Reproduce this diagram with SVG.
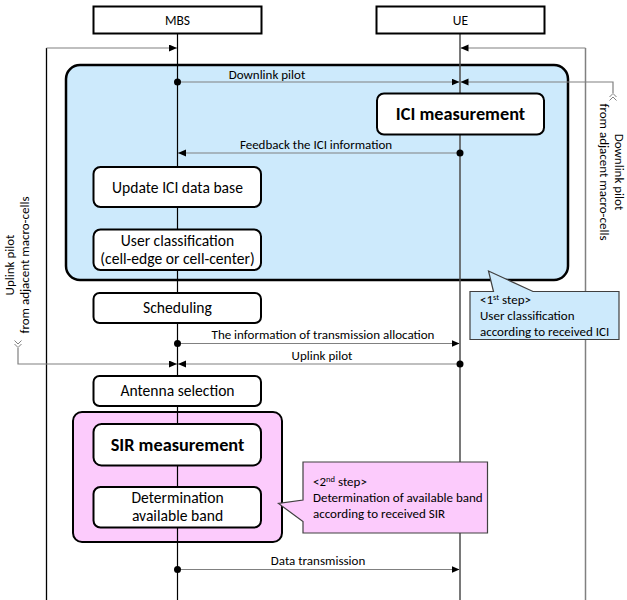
<svg xmlns="http://www.w3.org/2000/svg" width="627" height="600" viewBox="0 0 627 600">
<style>
  text { font-family: Carlito, Lato, "Liberation Sans", sans-serif; fill: #000; }
  .hdr { fill: #fff; stroke: #000; stroke-width: 2; }
  .box { fill: #fff; stroke: #000; stroke-width: 2; }
  .bt { font-size: 15.6px; text-anchor: middle; }
  .bb { font-size: 18.3px; font-weight: bold; text-anchor: middle; }
  .lbl { font-size: 13px; text-anchor: middle; }
  .ct { font-size: 13px; }
  .msg { stroke: #808080; stroke-width: 1.2; fill: none; }
  .life { stroke: #000; stroke-width: 1.2; fill: none; }
  .lifeg { stroke: #4d4d4d; stroke-width: 1.5; fill: none; }
  .dot { fill: #000; }
  .chev { stroke: #808080; stroke-width: 1; fill: none; }
</style>
<defs>
  <marker id="arr" markerUnits="userSpaceOnUse" markerWidth="9" markerHeight="8" refX="8" refY="3.5" orient="auto">
    <path d="M0,0 L8,3.5 L0,7 z" fill="#000"/>
  </marker>
</defs>

<!-- group regions -->
<g id="phase1">
  <rect x="66" y="65" width="502" height="215" rx="14" fill="#cdeafc" stroke="#000" stroke-width="2.5"/>
</g>
<g id="phase2">
  <rect x="73" y="412" width="209" height="130" rx="9" fill="#fccbfc" stroke="#000" stroke-width="2"/>
</g>

<!-- connectors -->
<g id="connectors">
  <line class="life" x1="177.5" y1="34" x2="177.5" y2="600"/>
  <line class="lifeg" x1="460" y1="34" x2="460" y2="600"/>
  <line x1="46.5" y1="48" x2="46.5" y2="600" stroke="#000" stroke-width="1.3"/>
  <line x1="585.5" y1="48" x2="585.5" y2="600" stroke="#808080" stroke-width="1.5"/>
  <path class="msg" d="M46.5,48 H177" marker-end="url(#arr)"/>
  <path class="msg" d="M585.5,48 H460.5" marker-end="url(#arr)"/>
  <!-- downlink pilot -->
  <path class="msg" d="M177.5,82 H459.5" marker-end="url(#arr)"/>
  <circle class="dot" cx="177.5" cy="82" r="3.5"/>
  <path class="msg" d="M613,93 V82 H460.5" marker-end="url(#arr)"/>
  <path class="chev" d="M609.5,97 L613,93.5 L616.5,97 M609.5,100.5 L613,97 L616.5,100.5"/>
  <!-- feedback -->
  <path class="msg" d="M460,153 H178" marker-end="url(#arr)"/>
  <circle class="dot" cx="460" cy="153" r="3.5"/>
  <!-- transmission allocation -->
  <path class="msg" d="M177.5,343.5 H459.5" marker-end="url(#arr)"/>
  <circle class="dot" cx="177.5" cy="343.5" r="3.5"/>
  <!-- uplink pilot -->
  <path class="msg" d="M460,364 H178" marker-end="url(#arr)"/>
  <circle class="dot" cx="460" cy="364" r="3.5"/>
  <path class="msg" d="M18,348 V364 H177" marker-end="url(#arr)"/>
  <path class="chev" d="M14.5,340.5 L18,344 L21.5,340.5 M14.5,344 L18,347.5 L21.5,344"/>
  <!-- data transmission -->
  <path class="msg" d="M177.5,569.5 H459.5" marker-end="url(#arr)"/>
  <circle class="dot" cx="177.5" cy="569.5" r="3.5"/>
</g>

<!-- message labels -->
<g id="labels">
  <text class="lbl" x="267" y="79">Downlink pilot</text>
  <text class="lbl" x="316" y="149">Feedback the ICI information</text>
  <text class="lbl" x="323" y="339">The information of transmission allocation</text>
  <text class="lbl" x="322" y="360">Uplink pilot</text>
  <text class="lbl" x="318" y="565">Data transmission</text>
  <text class="lbl" transform="translate(615,172) rotate(90)">Downlink pilot</text>
  <text class="lbl" transform="translate(600,172) rotate(90)">from adjacent macro-cells</text>
  <text class="lbl" transform="translate(14,265) rotate(-90)">Uplink pilot</text>
  <text class="lbl" transform="translate(29,265) rotate(-90)">from adjacent macro-cells</text>
</g>

<!-- nodes -->
<g id="mbs">
  <rect class="hdr" x="93.5" y="6.5" width="168" height="27"/>
  <text class="lbl" x="177.5" y="25" style="font-size:13.5px">MBS</text>
</g>
<g id="ue">
  <rect class="hdr" x="376.5" y="6.5" width="168" height="27"/>
  <text class="lbl" x="460.5" y="25" style="font-size:13.5px">UE</text>
</g>
<g id="ici-measurement">
  <rect class="box" x="377" y="93.5" width="167" height="41" rx="7"/>
  <text class="bb" x="460.5" y="120">ICI measurement</text>
</g>
<g id="update-ici">
  <rect class="box" x="93.5" y="167" width="167.5" height="40" rx="7"/>
  <text class="bt" x="177.5" y="192.5">Update ICI data base</text>
</g>
<g id="user-classification">
  <rect class="box" x="93.5" y="229.5" width="167.5" height="40.5" rx="7"/>
  <text class="bt" x="177.5" y="246">User classification</text>
  <text class="bt" x="177.5" y="263.5">(cell-edge or cell-center)</text>
</g>
<g id="scheduling">
  <rect class="box" x="93.5" y="293" width="167.5" height="30" rx="6"/>
  <text class="bt" x="177.5" y="313">Scheduling</text>
</g>
<g id="antenna-selection">
  <rect class="box" x="93.5" y="376" width="167.5" height="30" rx="6"/>
  <text class="bt" x="177.5" y="396">Antenna selection</text>
</g>
<g id="sir-measurement">
  <rect class="box" x="93.5" y="424" width="167.5" height="41.5" rx="8"/>
  <text class="bb" x="177.5" y="451">SIR measurement</text>
</g>
<g id="determination">
  <rect class="box" x="93.5" y="487" width="167.5" height="40.5" rx="7"/>
  <text class="bt" x="177.5" y="503">Determination</text>
  <text class="bt" x="177.5" y="521">available band</text>
</g>

<!-- callouts -->
<g id="callout-step1">
  <path d="M470,291.5 H493.5 L488.5,271 L533,291.5 H619 V339.5 H470 Z" fill="#cdeafc" stroke="#404040" stroke-width="1.2"/>
  <text class="ct" x="480" y="303.5">&lt;1<tspan dy="-4" font-size="8.5">st</tspan><tspan dy="4"> step&gt;</tspan></text>
  <text class="ct" x="480" y="319.5">User classification</text>
  <text class="ct" x="480" y="335.5">according to received ICI</text>
</g>
<g id="callout-step2">
  <path d="M303,462 H487.5 V533 H303 V521.5 L278.5,503.5 L303,500 Z" fill="#fccbfc" stroke="#404040" stroke-width="1.2"/>
  <text class="ct" x="313" y="486">&lt;2<tspan dy="-4" font-size="8.5">nd</tspan><tspan dy="4"> step&gt;</tspan></text>
  <text class="ct" x="313" y="502">Determination of available band</text>
  <text class="ct" x="313" y="517.5">according to received SIR</text>
</g>
</svg>
